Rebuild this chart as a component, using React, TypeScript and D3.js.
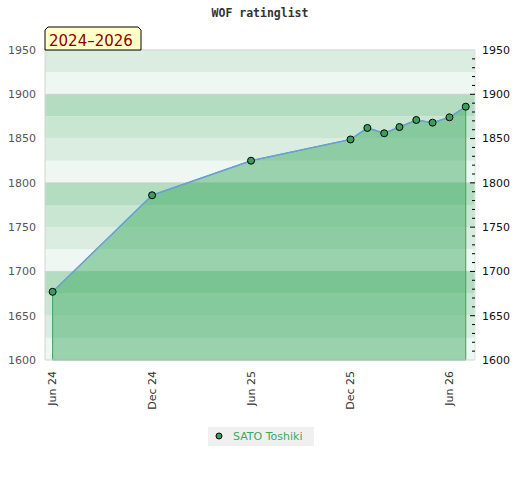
import React from 'react'
import * as d3 from 'd3'

// rating list dates and ratings
const listDates = [
  '2024-06-01', '2024-12-01', '2025-06-01', '2025-12-01', '2026-01-01', '2026-02-01',
  '2026-03-01', '2026-04-01', '2026-05-01', '2026-06-01', '2026-07-01'
]
const ratings = [1677, 1786, 1825, 1849, 1862, 1856, 1863, 1871, 1868, 1874, 1886]
const xTickDates = ['2024-06-01', '2024-12-01', '2025-06-01', '2025-12-01', '2026-06-01']
const yTicks = [1600, 1650, 1700, 1750, 1800, 1850, 1900, 1950]
const bandColors = ['#eef7f1', '#daede0', '#c8e6d2', '#b3dcc1']

const playerName = 'SATO Toshiki'
const title = 'WOF ratinglist'
const periodLabel = '2024–2026'

const W = 520
const H = 480
const left = 45
const right = 475
const top = 50
const bottom = 360

const parse = d3.utcParse('%Y-%m-%d')

export default function App() {
  const dates = listDates.map(d => parse(d) as Date)
  const points = dates.map((d, i) => ({ date: d, value: ratings[i] }))

  const x = d3.scaleUtc()
    .domain([d3.utcDay.offset(dates[0], -14), d3.utcDay.offset(dates[dates.length - 1], 17)])
    .range([left, right])
  const y = d3.scaleLinear().domain([1600, 1950]).range([bottom, top])

  const bands = d3.range(1600, 1950, 25)
  const minor = d3.range(1610, 1950, 10)

  const line = d3.line<any>().x(d => x(d.date)).y(d => y(d.value))
  const area = d3.area<any>().x(d => x(d.date)).y0(y(1600)).y1(d => y(d.value))

  const fmt = d3.utcFormat('%b %y')
  const font = '"DejaVu Sans", sans-serif'

  return (
    <div style={{ position: 'absolute', left: 0, top: 0 }}>
      <svg width={W} height={H} style={{ display: 'block', background: '#fff' }}>
        <text x={260} y={17} textAnchor="middle" fontFamily='"DejaVu Sans Mono", monospace'
          fontWeight="bold" fontSize={11.5} fill="#333">{title}</text>

        {/* background bands */}
        {bands.map((b, i) => (
          <rect key={b} x={left} y={y(b + 25)} width={right - left} height={y(b) - y(b + 25)}
            fill={bandColors[i % 4]} />
        ))}
        {[1700, 1800, 1900, 1950].map(v => (
          <line key={v} x1={left} x2={right} y1={y(v)} y2={y(v)} stroke="#cfcfcf" />
        ))}

        {/* area under rating */}
        <path d={area(points) as string} fill="rgba(58,168,96,0.47)" stroke="#3aa35a" strokeWidth={1} />
        <path d={line(points) as string} fill="none" stroke="#6aa0d8" strokeWidth={1.5} />
        {points.map((p, i) => (
          <circle key={i} cx={x(p.date)} cy={y(p.value)} r={3.5} fill="#3a9e5c" stroke="#000" strokeWidth={1} />
        ))}

        {/* frame */}
        <line x1={left} x2={left} y1={top} y2={bottom} stroke="#d4d4d4" />
        <line x1={right} x2={right} y1={top} y2={bottom} stroke="#e0e0e0" />
        <line x1={left} x2={right} y1={bottom} y2={bottom} stroke="#d4d4d4" />

        {/* right ticks */}
        {minor.map(v => (
          <line key={v} x1={v % 50 === 0 ? right - 5 : right - 3} x2={right} y1={y(v)} y2={y(v)} stroke="#000" />
        ))}

        {yTicks.map(v => (
          <g key={v}>
            <text x={36} y={y(v)} dy="0.35em" textAnchor="end" fontFamily={font} fontSize={11} fill="#555">{v}</text>
            <text x={482} y={y(v)} dy="0.35em" fontFamily={font} fontSize={11} fill="#111">{v}</text>
          </g>
        ))}

        {xTickDates.map(s => {
          const d = parse(s) as Date
          return (
            <text key={s} transform={`translate(${x(d)},371) rotate(-90)`} dy="0.35em" textAnchor="end"
              fontFamily={font} fontSize={11} fill="#333">{fmt(d)}</text>
          )
        })}

        {/* period label */}
        <path d={`M${left},${top} V30 L48,27 H138 L141,30 V${top} Z`} fill="#ffffc8" stroke="#000" />
        <text x={49} y={46} fontFamily={font} fontSize={15} fill="#8b0000">{periodLabel}</text>

        {/* legend */}
        <rect x={208} y={427} width={106} height={19} fill="#f0f0f0" />
        <circle cx={219} cy={436} r={3} fill="#3a9e5c" stroke="#000" />
        <text x={233} y={440} fontFamily={font} fontSize={11} fill="#3aaa5c">{playerName}</text>
      </svg>
    </div>
  )
}
